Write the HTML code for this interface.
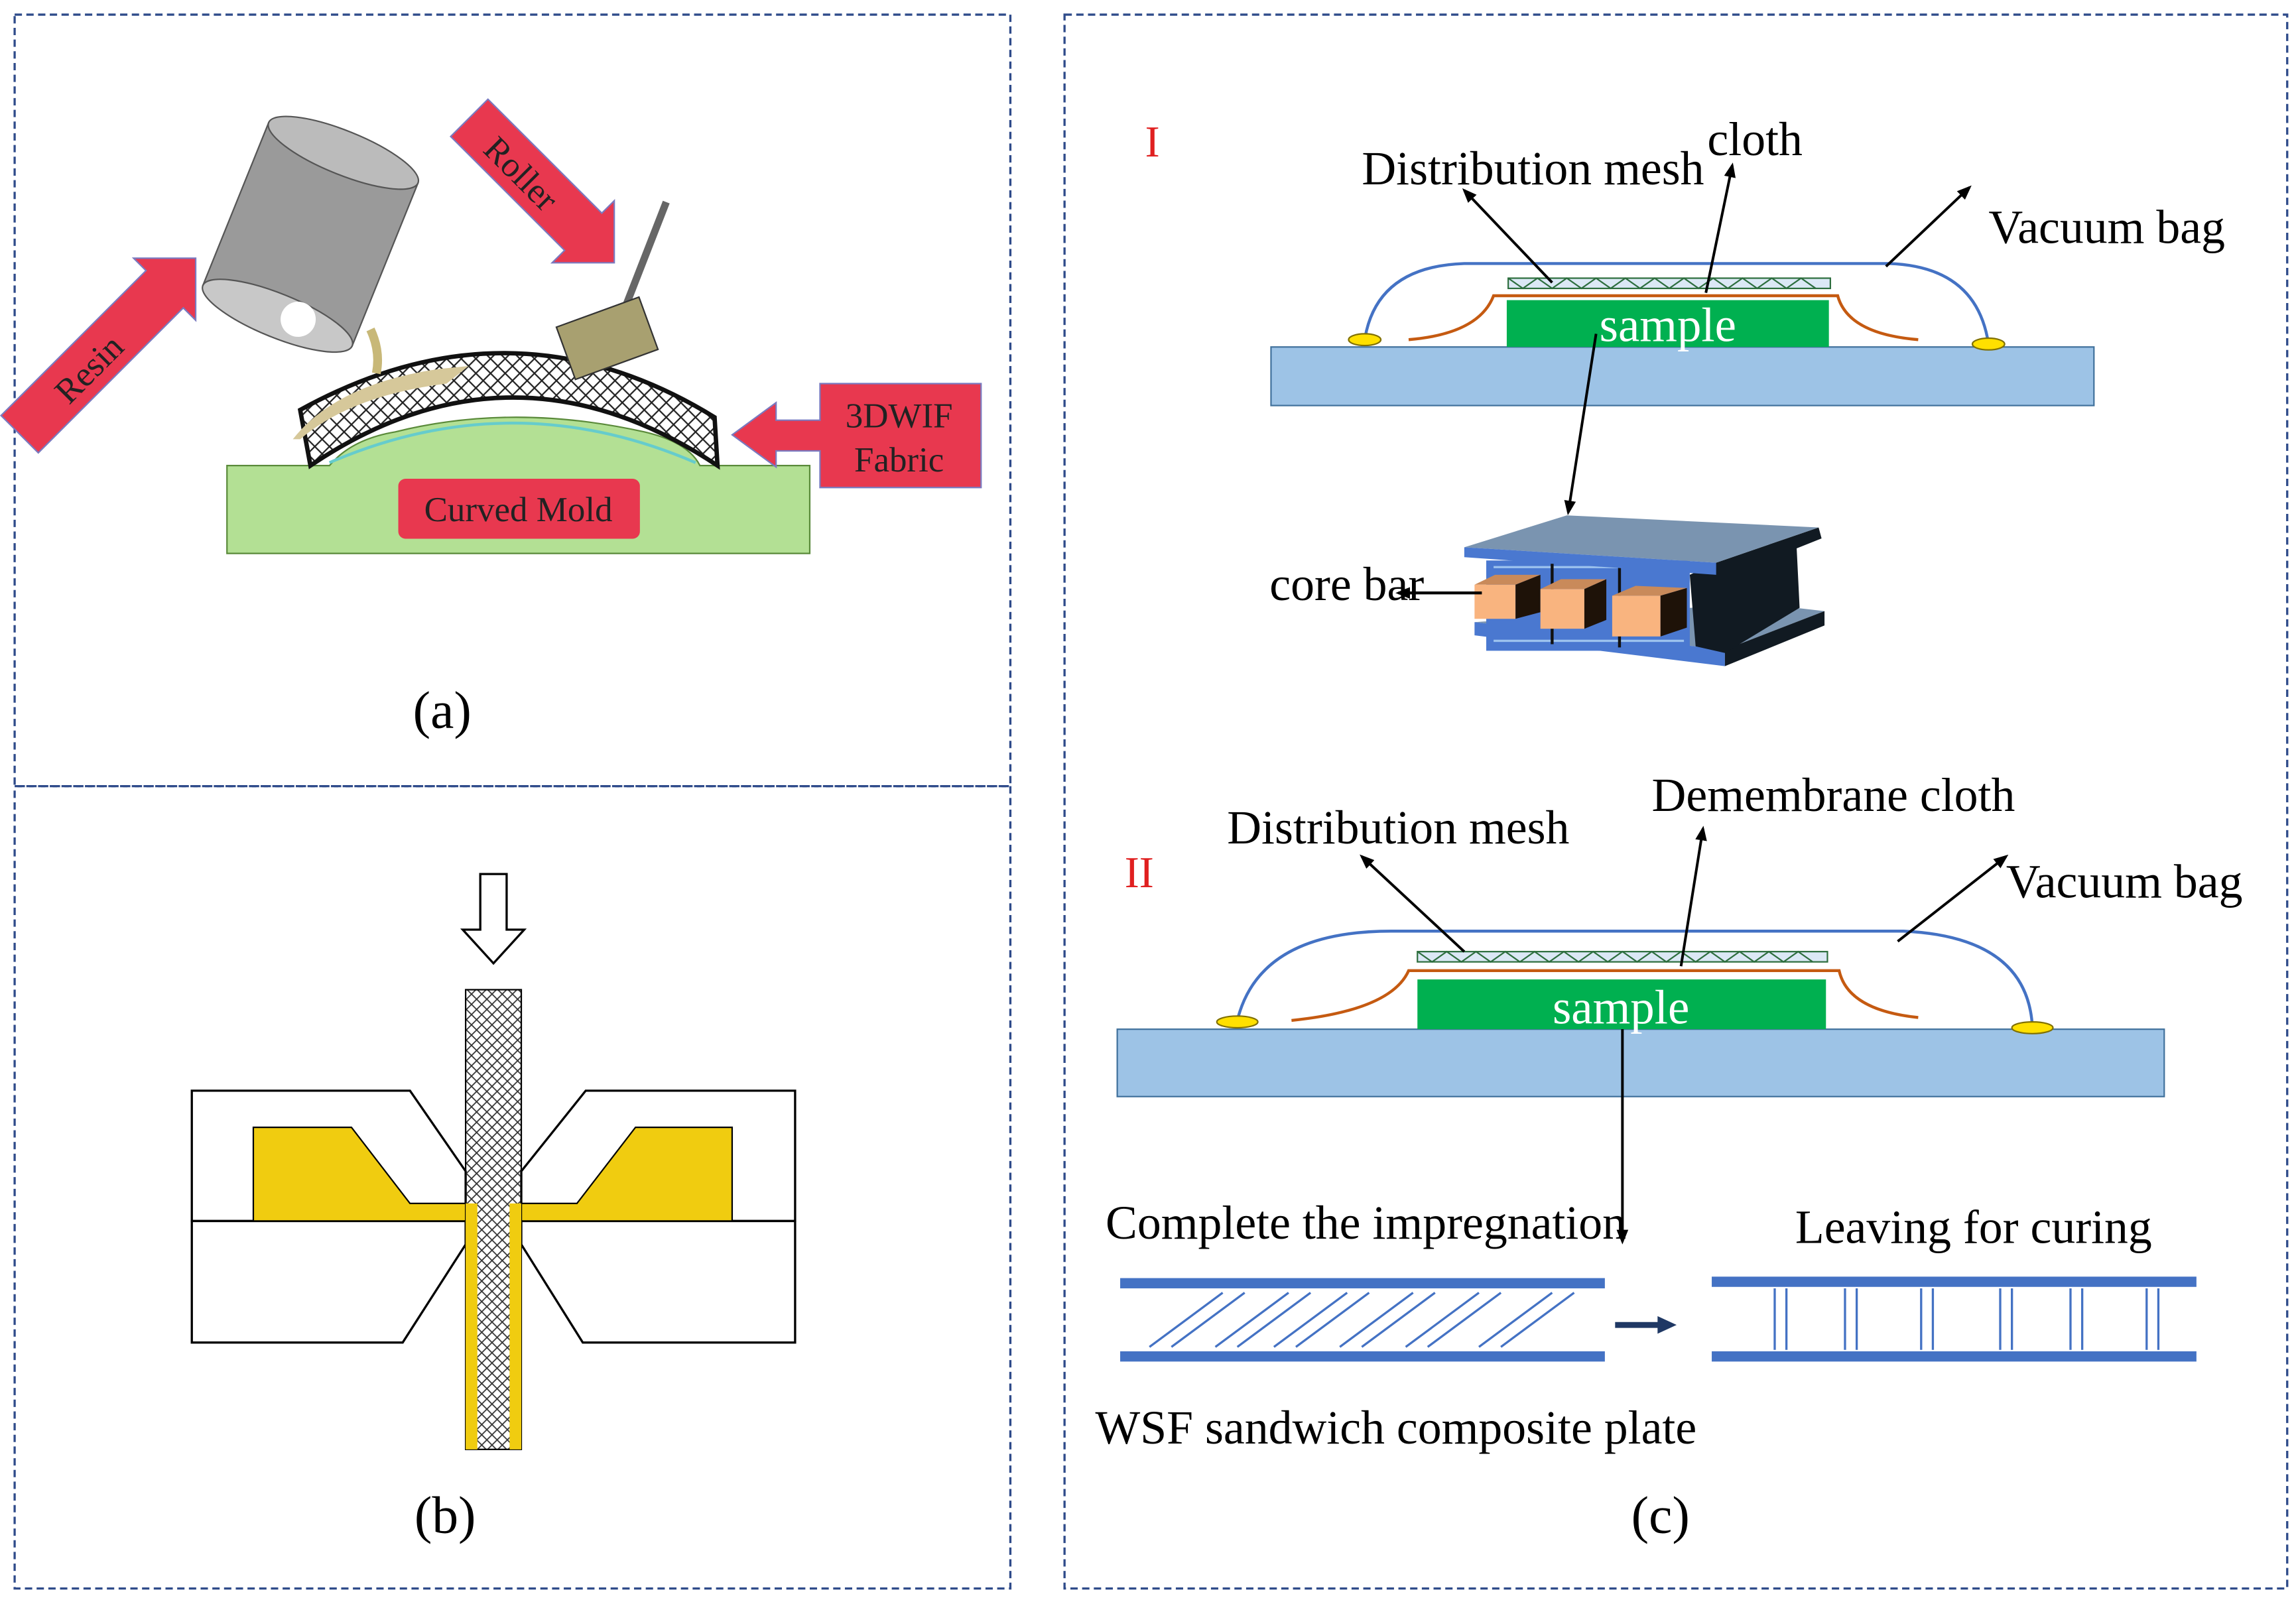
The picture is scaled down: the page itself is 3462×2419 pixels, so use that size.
<!DOCTYPE html>
<html><head><meta charset="utf-8"><style>html,body{margin:0;padding:0;background:#fff}svg{display:block}text{font-family:"Liberation Serif",serif}</style></head><body>
<svg width="3462" height="2419" viewBox="0 0 1568 1095.6" preserveAspectRatio="none" xmlns="http://www.w3.org/2000/svg">
<defs>
<pattern id="xh" width="10" height="10" patternUnits="userSpaceOnUse"><path d="M0 0L10 10M10 0L0 10" stroke="#222" stroke-width="1"/></pattern>
<pattern id="xh2" width="7" height="7" patternUnits="userSpaceOnUse"><path d="M0 0L7 7M7 0L0 7" stroke="#333" stroke-width="0.8"/></pattern>
<marker id="ar" markerWidth="10" markerHeight="10" refX="8" refY="5" orient="auto" markerUnits="userSpaceOnUse"><path d="M0 1L10 5L0 9Z" fill="#000"/></marker>
</defs>
<g fill="none" stroke="#2f4b8a" stroke-width="1.5" stroke-dasharray="5,3">
<rect x="10" y="10" width="680" height="527"/><rect x="10" y="537" width="680" height="548"/><rect x="727" y="10" width="835" height="1075"/>
</g>
<!-- (a) -->
<path d="M155 318H225Q240 300 270 295Q350 275 440 295Q470 302 478 318H553V378H155Z" fill="#b3e094" stroke="#5a8a3a"/>
<rect x="272" y="327" width="165" height="41" rx="5" fill="#e8384f"/>
<text x="354" y="356" font-size="24" text-anchor="middle" fill="#222">Curved Mold</text>
<path d="M212 318Q350 225 490 318L488 285Q350 200 205 280Z" fill="url(#xh)" stroke="#111" stroke-width="3"/>
<path d="M225 316Q350 262 475 316" fill="none" stroke="#6cc" stroke-width="2"/>
<path d="M200 300Q230 262 300 252L320 250L305 262Q240 270 205 300Z" fill="#d6c89a"/>
<path d="M253 225Q260 240 257 255" stroke="#c8b878" stroke-width="6" fill="none"/>
<g transform="rotate(22 212 160)"><rect x="157" y="100" width="110" height="120" fill="#9a9a9a" stroke="#555"/><ellipse cx="212" cy="100" rx="55" ry="15" fill="#bbb" stroke="#555"/><ellipse cx="212" cy="220" rx="55" ry="15" fill="#c8c8c8" stroke="#555"/><circle cx="226" cy="217" r="12" fill="#fff"/></g>
<g transform="rotate(-45 70 240)"><polygon points="-10,222 130,222 130,210 160,240 130,270 130,258 -10,258" fill="#e8384f" stroke="#7a7ac0"/><text x="55" y="250" font-size="24" text-anchor="middle" fill="#222">Resin</text></g>
<g transform="rotate(45 370 130)"><polygon points="300,112 410,112 410,100 440,130 410,160 410,148 300,148" fill="#e8384f" stroke="#7a7ac0"/><text x="352" y="140" font-size="24" text-anchor="middle" fill="#222">Roller</text></g>
<line x1="455" y1="138" x2="425" y2="215" stroke="#666" stroke-width="5"/>
<g transform="rotate(-20 415 232)"><rect x="385" y="212" width="60" height="38" fill="#a8a070" stroke="#333"/></g>
<polygon points="500,297 530,275 530,287 560,287 560,262 670,262 670,333 560,333 560,308 530,308 530,319" fill="#e8384f" stroke="#7a7ac0"/>
<text x="614" y="292" font-size="24" text-anchor="middle" fill="#222">3DWIF</text>
<text x="614" y="322" font-size="24" text-anchor="middle" fill="#222">Fabric</text>
<text x="302" y="497" font-size="36" text-anchor="middle">(a)</text>
<!-- (b) -->
<path d="M328 597H346V635H358L337 658L316 635H328Z" fill="#fff" stroke="#000" stroke-width="1.5"/>
<path d="M131 745H280L318 800V834H131Z" fill="#fff" stroke="#000" stroke-width="1.5"/>
<path d="M131 834H318V850L275 917H131Z" fill="#fff" stroke="#000" stroke-width="1.5"/>
<path d="M543 745H400L356 800V834H543Z" fill="#fff" stroke="#000" stroke-width="1.5"/>
<path d="M543 834H356V850L398 917H543Z" fill="#fff" stroke="#000" stroke-width="1.5"/>
<path d="M173 770H240L280 822H318V834H173Z" fill="#f0cc10" stroke="#000"/>
<path d="M500 770H434L394 822H356V834H500Z" fill="#f0cc10" stroke="#000"/>
<rect x="318" y="676" width="38" height="314" fill="url(#xh2)" stroke="#000"/>
<rect x="318" y="822" width="8" height="168" fill="#f0cc10"/><rect x="348" y="822" width="8" height="168" fill="#f0cc10"/>
<text x="304" y="1047" font-size="36" text-anchor="middle">(b)</text>
<!-- (c) I -->
<text x="787" y="107" font-size="30" fill="#e02020" text-anchor="middle">I</text>
<rect x="868" y="237" width="562" height="40" fill="#9dc3e6" stroke="#41719c"/>
<rect x="1029" y="205" width="220" height="32" fill="#00b050"/>
<text x="1139" y="233" font-size="33" fill="#fff" text-anchor="middle">sample</text>
<rect x="1030" y="190" width="220" height="7" fill="#dbe8f5" stroke="#2d6e3e"/>
<path d="M1030 190l10 7l10 -7l10 7l10 -7l10 7l10 -7l10 7l10 -7l10 7l10 -7l10 7l10 -7l10 7l10 -7l10 7l10 -7l10 7l10 -7l10 7l10 -7l10 7" fill="none" stroke="#2d6e3e"/>
<path d="M962 232Q1010 228 1020 202H1255Q1262 228 1310 232" fill="none" stroke="#c55a11" stroke-width="2"/>
<path d="M932 232Q940 182 1000 180H1290Q1350 182 1358 235" fill="none" stroke="#4472c4" stroke-width="2"/>
<ellipse cx="932" cy="232" rx="11" ry="4" fill="#ffe000" stroke="#807000"/><ellipse cx="1358" cy="235" rx="11" ry="4" fill="#ffe000" stroke="#807000"/>
<text x="930" y="126" font-size="32.5">Distribution mesh</text>
<text x="1166" y="106" font-size="32.5">cloth</text>
<text x="1358" y="166" font-size="32.5">Vacuum bag</text>
<g stroke="#000" stroke-width="1.8" marker-end="url(#ar)">
<line x1="1060" y1="193" x2="1000" y2="130"/><line x1="1165" y1="200" x2="1183" y2="113"/><line x1="1288" y1="182" x2="1345" y2="128"/>
<line x1="1090" y1="228" x2="1071" y2="350"/>
</g>
<!-- core bar -->
<g transform="translate(0 352) scale(1 0.752) translate(0 -358)">
<polygon points="1007,455 1200,438 1246,445 1178,480" fill="#7a94b0"/>
<polygon points="1007,455 1178,480 1178,495 1007,467" fill="#4a78d0"/>
<polygon points="1178,480 1246,445 1246,458 1178,495" fill="#111a22"/>
<rect x="1015" y="399" width="139" height="82" fill="#4a78d0"/>
<path d="M1020 405H1150M1020 472H1150" stroke="#9cc2ee" stroke-width="2"/>
<line x1="1060" y1="402" x2="1060" y2="475" stroke="#111" stroke-width="2"/><line x1="1106" y1="405" x2="1106" y2="478" stroke="#111" stroke-width="2"/>
<polygon points="1172,401 1242,369 1244,379 1227,388 1229,442 1178,483 1158,477 1154,412" fill="#111a22"/>
<polygon points="1000,387 1070,358 1242,369 1172,401" fill="#7a94b0"/>
<polygon points="1000,387 1172,401 1172,412 1000,396" fill="#4a78d0"/>
<polygon points="1007,421 1021,412 1052,412 1035,421" fill="#c98a5a"/><rect x="1007" y="421" width="28" height="31" fill="#f9b47f"/><polygon points="1035,421 1052,412 1052,446 1035,452" fill="#1e1208"/>
<polygon points="1052,425 1066,416 1097,416 1082,425" fill="#c98a5a"/><rect x="1052" y="425" width="30" height="36" fill="#f9b47f"/><polygon points="1082,425 1097,416 1097,453 1082,461" fill="#1e1208"/>
<polygon points="1101,431 1117,422 1152,424 1134,431" fill="#c98a5a"/><rect x="1101" y="431" width="33" height="37" fill="#f9b47f"/><polygon points="1134,431 1152,424 1152,460 1134,468" fill="#1e1208"/>
</g>
<text x="867" y="410" font-size="32.5">core bar</text>
<line x1="1012" y1="405" x2="955" y2="405" stroke="#000" stroke-width="2" marker-end="url(#ar)"/>
<!-- (c) II -->
<text x="778" y="606" font-size="30" fill="#e02020" text-anchor="middle">II</text>
<rect x="763" y="703" width="715" height="46" fill="#9dc3e6" stroke="#41719c"/>
<rect x="968" y="669" width="279" height="34" fill="#00b050"/>
<text x="1107" y="699" font-size="33" fill="#fff" text-anchor="middle">sample</text>
<rect x="968" y="650" width="280" height="7" fill="#dbe8f5" stroke="#2d6e3e"/>
<path d="M968 650l10 7l10 -7l10 7l10 -7l10 7l10 -7l10 7l10 -7l10 7l10 -7l10 7l10 -7l10 7l10 -7l10 7l10 -7l10 7l10 -7l10 7l10 -7l10 7l10 -7l10 7l10 -7l10 7l10 -7l10 7" fill="none" stroke="#2d6e3e"/>
<path d="M882 697Q950 690 962 663H1256Q1262 690 1310 695" fill="none" stroke="#c55a11" stroke-width="2"/>
<path d="M845 697Q860 636 950 636H1300Q1385 640 1388 702" fill="none" stroke="#4472c4" stroke-width="2"/>
<ellipse cx="845" cy="698" rx="14" ry="4" fill="#ffe000" stroke="#807000"/><ellipse cx="1388" cy="702" rx="14" ry="4" fill="#ffe000" stroke="#807000"/>
<text x="838" y="576" font-size="32.5">Distribution mesh</text>
<text x="1128" y="554" font-size="32.5">Demembrane cloth</text>
<text x="1370" y="613" font-size="32.5">Vacuum bag</text>
<g stroke="#000" stroke-width="1.8" marker-end="url(#ar)">
<line x1="1000" y1="650" x2="930" y2="585"/><line x1="1148" y1="660" x2="1163" y2="566"/><line x1="1296" y1="643" x2="1370" y2="585"/>
<line x1="1108" y1="703" x2="1108" y2="848"/>
</g>
<text x="755" y="846" font-size="32.5">Complete the impregnation</text>
<text x="1226" y="849" font-size="32.5">Leaving for curing</text>
<rect x="765" y="873" width="331" height="7" fill="#4472c4"/><rect x="765" y="923" width="331" height="7" fill="#4472c4"/>
<g stroke="#4472c4" stroke-width="1.5">
<path d="M785 920L835 883M800 920L850 883M830 920L880 883M845 920L895 883M870 920L920 883M885 920L935 883M915 920L965 883M930 920L980 883M960 920L1010 883M975 920L1025 883M1010 920L1060 883M1025 920L1075 883"/>
<path d="M1212 880V922M1220 880V922M1260 880V922M1268 880V922M1312 880V922M1320 880V922M1366 880V922M1374 880V922M1414 880V922M1422 880V922M1466 880V922M1474 880V922"/>
</g>
<rect x="1169" y="872" width="331" height="7" fill="#4472c4"/><rect x="1169" y="923" width="331" height="7" fill="#4472c4"/>
<line x1="1103" y1="905" x2="1135" y2="905" stroke="#1f3864" stroke-width="4"/><polygon points="1132,899 1145,905 1132,911" fill="#1f3864"/>
<text x="748" y="986" font-size="32.5">WSF sandwich composite plate</text>
<text x="1134" y="1047" font-size="36" text-anchor="middle">(c)</text>
</svg>
</body></html>
